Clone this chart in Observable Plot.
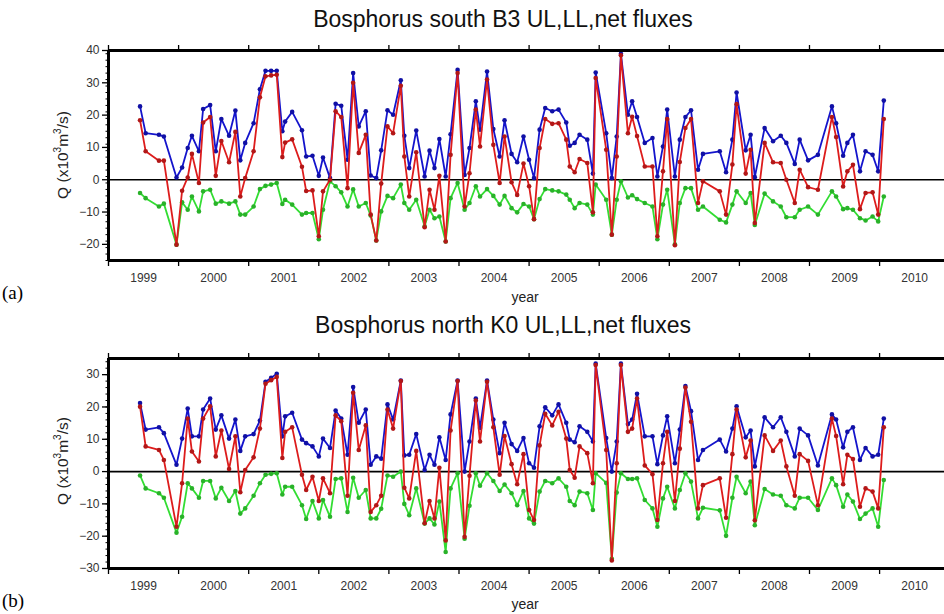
<!DOCTYPE html>
<html><head><meta charset="utf-8">
<script src="https://cdn.jsdelivr.net/npm/d3@7"></script>
<script src="https://cdn.jsdelivr.net/npm/@observablehq/plot@0.6"></script>
<style>
body{margin:0;background:#fff;width:944px;height:614px;overflow:hidden;position:relative;font-family:"Liberation Sans",Arial,Helvetica,sans-serif}
.abs{position:absolute}
.title{font-size:23px;color:#111;white-space:nowrap;transform:translateX(-50%)}
.ylab{font-size:15.5px;color:#222;white-space:nowrap;transform:translate(-50%,-50%) rotate(-90deg)}
.xlab{font-size:14px;color:#222;transform:translateX(-50%)}
.tag{font-family:"Liberation Serif","Times New Roman",serif;font-size:19px;color:#000}
</style></head><body>
<div class="abs title" style="left:503px;top:6px">Bosphorus south B3 UL,LL,net fluxes</div>
<div class="abs title" style="left:503px;top:312px">Bosphorus north K0 UL,LL,net fluxes</div>
<div class="abs ylab" style="left:62px;top:155px">Q (x10<sup style="font-size:10px">3</sup>m<sup style="font-size:10px">3</sup>/s)</div>
<div class="abs ylab" style="left:62px;top:461px">Q (x10<sup style="font-size:10px">3</sup>m<sup style="font-size:10px">3</sup>/s)</div>
<div class="abs xlab" style="left:525px;top:289px">year</div>
<div class="abs xlab" style="left:525px;top:596px">year</div>
<div class="abs tag" style="left:2px;top:282px">(a)</div>
<div class="abs tag" style="left:2px;top:590px">(b)</div>
<div id="pa" class="abs" style="left:0;top:30px"></div>
<div id="pb" class="abs" style="left:0;top:338px"></div>
<script>
// sampling times (decimal years)
const times = [1999.45,1999.53,1999.72,1999.79,1999.97,2000.05,2000.13,2000.19,2000.29,2000.35,
2000.45,2000.53,2000.61,2000.72,2000.81,2000.88,2000.95,2001.07,2001.16,2001.24,
2001.32,2001.40,2001.48,2001.52,2001.62,2001.76,2001.82,2001.91,2002.00,2002.06,
2002.16,2002.24,2002.32,2002.41,2002.49,2002.57,2002.67,2002.74,2002.82,2002.89,
2002.98,2003.06,2003.17,2003.22,2003.29,2003.39,2003.51,2003.58,2003.65,2003.72,
2003.81,2003.88,2003.98,2004.08,2004.15,2004.24,2004.30,2004.40,2004.49,2004.58,
2004.65,2004.75,2004.83,2004.92,2005.00,2005.07,2005.15,2005.23,2005.33,2005.42,
2005.53,2005.58,2005.65,2005.72,2005.83,2005.91,2005.95,2006.10,2006.18,2006.25,
2006.31,2006.41,2006.47,2006.54,2006.65,2006.76,2006.83,2006.91,2006.97,2007.08,
2007.15,2007.23,2007.31,2007.41,2007.48,2007.72,2007.81,2007.90,2007.96,2008.09,
2008.16,2008.22,2008.36,2008.48,2008.59,2008.67,2008.79,2008.86,2008.98,2009.12,
2009.32,2009.38,2009.48,2009.54,2009.62,2009.72,2009.80,2009.90,2009.98,2010.06];

// (a) Bosphorus south B3
const southUL = [22.7,14.4,13.9,13.4,0.7,3.8,9.8,13.6,8.8,21.9,
23.1,8.8,18.8,13.6,21.4,6,11.4,17.5,28,33.7,
33.7,33.7,15,18,21,15.3,7.2,7.4,1.2,6.9,
0.5,23.5,22.9,6.2,33,16.5,21.2,1.3,0.5,9.1,
21.5,20.1,30.8,13.6,3.6,15.2,1,9,3.6,12.6,
1,14.1,34,1.5,9.8,24.3,15.5,33.5,15.7,7.2,
18.4,8,5.4,13.4,6.2,0.5,15.5,22.2,21.2,21.7,
17.7,10.5,11.4,13.9,12.4,1.9,33.2,14.4,0.5,13.4,
39,20.1,24.3,19.4,11.4,12.9,1,10.3,21.7,1,
12.4,19.4,21.5,3.1,8,8.8,2.3,12.4,27,9.1,
13.9,0.8,16,11.9,13.6,11.4,4.9,12.4,6,7.7,
22.7,17.5,7.4,11.4,13.9,2.6,8.8,7.7,2.6,24.5];
const southLL = [-4.1,-5.7,-8.3,-7.4,-20.1,-7,-9.3,-5.2,-9.8,-3.6,
-3.1,-7.4,-6.7,-7.4,-6.7,-10.8,-10.8,-8.3,-2.9,-1.9,
-1.5,-1,-7.5,-6.2,-7.7,-10.8,-10.3,-10.3,-18.4,-9.3,
-0.5,-2,-3.9,-8.3,-3,-8.3,-7.2,-11.1,-18.8,-9.8,
-5,-5.7,-1.5,-7.2,-9.3,-6.2,-14.4,-9.3,-11.9,-11.4,
-19.1,-5.7,-1,-9.3,-7.2,-2,-5.2,-2.9,-5,-7.7,
-5,-8.8,-10.1,-7.5,-8.3,-12.2,-6,-2.9,-3.3,-3.6,
-4.6,-6.2,-8.8,-7.2,-7.7,-10.8,-1.5,-6.2,-17,-6.2,
-0.5,-5.5,-4.8,-6,-7.2,-8.3,-18.4,-7.7,-3.1,-20,
-7.2,-2.6,-2.6,-9.3,-8.3,-12.4,-13.2,-7.7,-3.6,-7.2,
-4.1,-14,-4.3,-6.7,-8.3,-11.6,-11.6,-9.3,-8.3,-10.8,
-3.6,-5.2,-9.1,-8.8,-9.3,-11.9,-12.6,-11.4,-12.9,-5.2];
const southNet = [18.4,8.8,5.9,5.9,-20.1,-3.4,0.7,8,-1,17.7,
19.4,1.2,12,5.4,14.8,-5.2,0.5,8.8,25.5,32,
32.3,32.5,7,11.5,12.5,4,-3.5,-3.3,-17.5,-3.6,
0,21.2,19.4,-2.6,30,8.3,13.9,-10.8,-18.8,-1.2,
16.5,14.4,29.1,7.2,-5.2,8.5,-14.7,-3.1,-9.3,1.2,
-19.1,7.7,33,-8.3,2,21.7,10.3,31,10.8,-1,
13.4,-0.8,-4.7,5,-2,-12.2,9.8,18.8,17.3,17.5,
12.4,4.1,2.3,6.4,5.2,-10.1,31.5,9.3,-17,7.2,
38.5,14.4,19.5,13.5,4.1,4.1,-17.5,2.6,18.8,-20.3,
5.5,16,18.8,-7.2,-0.5,-3.6,-10.8,4.7,23.4,1.9,
9.3,-13.4,11.4,5.4,5.2,0,-7.2,3.1,-2.3,-3.1,
19.4,13.2,-2.1,2.6,4.6,-9.1,-4.1,-3.9,-10.8,18.8];

// (b) Bosphorus north K0
const northUL = [21.2,13,13.7,11.9,2.1,10.2,19.5,10.9,10.9,19.2,
22.6,13,17.4,10.2,16.1,6.4,10.9,11.6,15.8,27.8,
29,30.3,10.9,17.1,18.2,9.9,8.8,7.8,4.7,10.2,
7.3,18.9,16.4,5.2,26.2,15.1,19.2,2.1,4.7,4,
20.8,16.1,28.2,5,5.2,11.6,0.5,5.2,2.1,10.6,
3.6,17.7,28.2,0,9.3,22.6,13.5,28.2,16.1,5.7,
15.1,8.5,6.4,10.4,2.6,1.2,14,19.9,17.4,20.8,
15.1,9.9,9.1,14,12.3,9.3,33.4,10.4,0,9.3,
33.4,14.7,16.1,24.1,10.9,10.9,2.3,11.2,17.1,2.6,
13,26.5,18.7,3.6,6.7,9.9,6.2,13.3,20.2,10.6,
12.7,1.6,16.8,13.7,16.8,12.3,4.7,13.3,11.2,1.9,
17.7,16.1,7.5,12.3,13.7,3.6,7.3,4.7,5.2,16.4];
const northLL = [-1.2,-5.2,-6.7,-8.1,-18.9,-14,-3.6,-5.2,-8.1,-2.9,
-2.9,-8.3,-5,-9.1,-6,-13,-11.4,-7.5,-3.6,-1,
-0.7,-0.5,-7.1,-4.7,-4.7,-10.4,-14.7,-9.1,-14.5,-8.8,
-14,-2.3,-2.1,-12.5,-1.9,-8.1,-5.7,-14.5,-14.5,-11.5,
-1.2,-1.6,0,-10,-13.5,-5.2,-16.1,-14.5,-16.4,-9.3,
-24.9,-5.2,-0.5,-20.8,-10.6,-0.5,-4.4,-0.5,-2.9,-6,
-4,-6.7,-10.4,-6,-14.5,-16.1,-6.2,-2.9,-3.6,-2.1,
-4.7,-9.1,-10.4,-6.2,-6.7,-11.9,-0.5,-3.5,-27,-6.5,
-0.5,-2.3,-2.3,-2.1,-8.8,-11.4,-17.1,-8.3,-4.7,-11.4,
-5.7,-0.5,-3.1,-14.5,-11.2,-12,-19.9,-8.1,-1.6,-6.7,
-3.1,-16.6,-5.4,-7.1,-7.5,-10.4,-11.4,-8.1,-8.1,-11.9,
-2.1,-4.2,-10.9,-7.1,-9.3,-14.7,-13,-11.4,-17.1,-2.6];
const northNet = [20.1,7.8,6.7,3.6,-17.1,-3.6,16.4,6.2,3.1,16.4,
20.2,4.7,12.7,0.8,10.9,-6.4,0.5,4.4,13.3,27.2,
28.3,29.3,4.2,12.3,13.7,-1,-5.7,-1.6,-9.1,-2.1,
-6.7,17.4,15.6,-7.5,24.4,6.7,14.3,-12.5,-10.4,-7.5,
19.2,13.3,28,-5,-8.3,6.4,-16,-9.1,-14.5,1.2,
-21.3,12.7,28,-20.2,-1.3,22,9.3,27.8,13.7,-1,
11,2.3,-3.9,5.4,-11.9,-15,8.1,17.9,14.3,18.5,
10.2,0.5,-1.9,7.8,5.7,-3.6,33,6.7,-27.5,2.6,
33,12.3,13.3,22.6,1.9,-0.8,-15,2.6,12.3,-9.1,
7.1,26,15.4,-11.4,-4.2,-2.1,-14.3,5.4,19.2,4.4,
9.6,-15.1,11.2,6.4,9.6,1.6,-7.5,5.4,3.3,-10.4,
16.4,11,-3.9,5.2,3.9,-10.9,-5.2,-6.2,-11.4,13.7];

const yearTicks = d3.range(1999, 2011);
const yearLabels = ["1999","2000","2001","2002","2003","2004","2005","2006","2007","2008","2009","2010"];
const colUL = "#1414cc", colLL = "#33dd33", colNet = "#dd1c1c";

function panel(ul, ll, net, yDomain, majors) {
  const rows = s => times.map((t, i) => ({t, v: s[i]}));
  const series = [[ll, colLL], [ul, colUL], [net, colNet]];
  const marks = [];
  marks.push(Plot.axisY({ticks: d3.range(yDomain[0], yDomain[1] + 1, 2), tickSize: 2.5, tickFormat: () => "", stroke: "#000"}));
  marks.push(Plot.axisY({ticks: majors, tickSize: 6, tickPadding: 3, fontSize: 12, color: "#333", stroke: "#000", strokeWidth: 1.3}));
  marks.push(Plot.axisX({ticks: yearTicks, tickSize: 6, tickFormat: () => "", stroke: "#000", strokeWidth: 1.3}));
  marks.push(Plot.axisX({anchor: "top", ticks: yearTicks, tickSize: 6, tickFormat: () => "", stroke: "#000", strokeWidth: 1.3}));
  marks.push(Plot.axisX({ticks: yearTicks.map(y => y + 0.5), tickSize: 0, tickPadding: 13, fontSize: 12, color: "#333", tickFormat: (d, i) => yearLabels[i]}));
  marks.push(Plot.ruleY([0], {stroke: "#000", strokeWidth: 1.6}));
  for (const [s, c] of series) {
    marks.push(Plot.line(rows(s), {x: "t", y: "v", stroke: c, strokeWidth: 1.8}));
    marks.push(Plot.dot(rows(s), {x: "t", y: "v", r: 2.3, fill: d3.color(c).darker(0.6).formatHex(), stroke: "none"}));
  }
  marks.push(Plot.ruleY([yDomain[0], yDomain[1]], {stroke: "#000", strokeWidth: 3}));
  marks.push(Plot.ruleX([1999], {stroke: "#000", strokeWidth: 3}));
  return Plot.plot({
    width: 944, height: 270,
    marginLeft: 108, marginRight: 0, marginTop: 20, marginBottom: 40,
    x: {domain: [1999, 2010.926], label: null},
    y: {domain: yDomain, label: null},
    style: {fontFamily: "'Liberation Sans', Arial, sans-serif", background: "transparent", overflow: "visible"},
    marks
  });
}
document.getElementById("pa").appendChild(panel(southUL, southLL, southNet, [-25, 40], [-20, -10, 0, 10, 20, 30, 40]));
document.getElementById("pb").appendChild(panel(northUL, northLL, northNet, [-30, 35], [-30, -20, -10, 0, 10, 20, 30]));
</script>
</body></html>
